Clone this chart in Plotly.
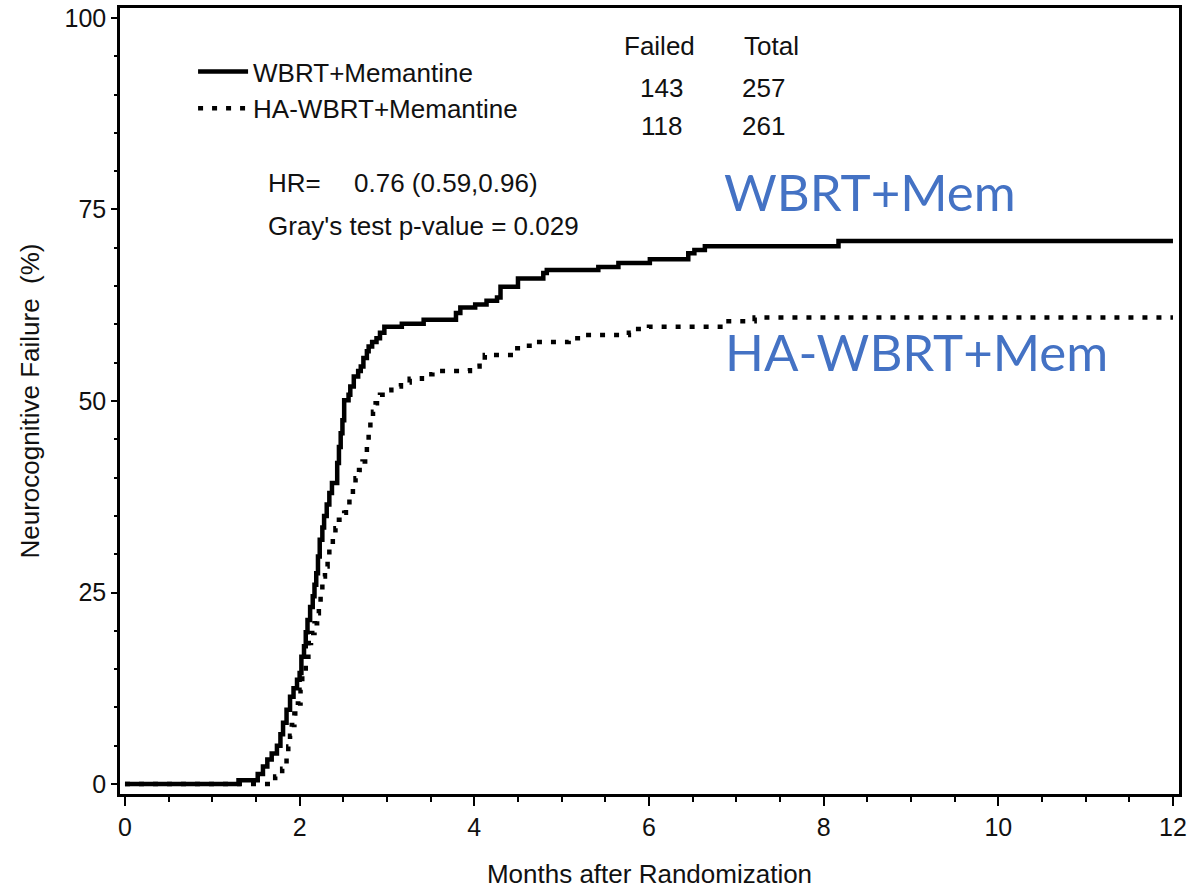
import plotly.graph_objects as go

# ---- data ----
wbrt_t = [0, 1.30, 1.52, 1.58, 1.63, 1.68, 1.74, 1.78, 1.81, 1.85, 1.89, 1.93, 1.97, 2.00,
          2.02, 2.05, 2.07, 2.09, 2.12, 2.15, 2.17, 2.19, 2.21, 2.23, 2.26, 2.28, 2.31, 2.34,
          2.37, 2.43, 2.45, 2.47, 2.49, 2.51, 2.56, 2.58, 2.62, 2.67, 2.70, 2.73, 2.77, 2.79,
          2.83, 2.88, 2.92, 2.97, 3.17, 3.42, 3.79, 3.84, 4.01, 4.14, 4.26, 4.30, 4.50, 4.79,
          4.83, 5.42, 5.65, 6.01, 6.45, 6.52, 6.64, 8.17, 12.0]
wbrt_v = [0, 0.5, 1.3, 2.3, 3.2, 4.0, 5.0, 6.5, 8.0, 9.7, 11.4, 12.5, 13.6, 14.5,
          16.6, 18.0, 19.8, 21.4, 23.1, 24.5, 26.0, 27.5, 29.7, 31.9, 33.5, 35.0, 36.5, 38.0,
          39.3, 41.9, 44.0, 45.8, 47.5, 50.1, 50.8, 51.9, 53.2, 53.9, 54.5, 55.6, 56.5, 57.1,
          57.7, 58.2, 58.9, 59.7, 60.1, 60.6, 61.5, 62.2, 62.6, 63.1, 63.5, 64.9, 66.0, 66.7,
          67.1, 67.5, 68.0, 68.5, 69.3, 69.7, 70.2, 70.9, 70.9]

ha_t = [0, 1.72, 1.80, 1.85, 1.87, 1.89, 1.91, 1.94, 1.98, 2.01, 2.03, 2.07, 2.10, 2.13,
        2.17, 2.20, 2.22, 2.24, 2.26, 2.29, 2.32, 2.34, 2.38, 2.41, 2.45, 2.51, 2.53, 2.57,
        2.61, 2.64, 2.68, 2.72, 2.75, 2.77, 2.79, 2.81, 2.84, 2.87, 2.92, 2.98, 3.05, 3.16,
        3.26, 3.40, 3.52, 3.95, 4.06, 4.12, 4.45, 4.55, 4.67, 5.08, 5.24, 5.77, 5.85, 6.00,
        6.88, 7.21, 12.0]
ha_v = [0, 1.0, 2.0, 3.5, 4.9, 6.3, 7.7, 9.2, 10.5, 12.3, 14.5, 16.6, 18.4, 19.7,
        21.0, 22.3, 23.8, 25.3, 27.1, 28.4, 29.7, 31.0, 32.3, 33.4, 34.5, 35.4, 36.2, 37.5,
        38.8, 39.9, 41.0, 42.1, 43.2, 44.9, 46.2, 47.5, 48.6, 49.7, 50.8, 51.4, 51.9, 52.4,
        52.9, 53.5, 53.9, 54.5, 55.0, 56.0, 56.9, 57.2, 57.7, 58.2, 58.6, 58.9, 59.4, 59.7,
        60.4, 60.9, 60.9]

series_names = ["WBRT+Memantine", "HA-WBRT+Memantine"]
failed = ["143", "118"]
total = ["257", "261"]
hr_text = "0.76 (0.59,0.96)"
p_text = "Gray's test p-value = 0.029"
x_ticks = [0, 2, 4, 6, 8, 10, 12]
y_ticks = [0, 25, 50, 75, 100]

ARIAL = "Arial, Liberation Sans, sans-serif"
BLUE = "#4472C4"

fig = go.Figure()
fig.add_trace(go.Scatter(x=wbrt_t, y=wbrt_v, mode="lines", line_shape="hv",
                         name=series_names[0], line=dict(color="black", width=4.5)))
fig.add_trace(go.Scatter(x=ha_t, y=ha_v, mode="lines", line_shape="hv",
                         name=series_names[1],
                         line=dict(color="black", width=4.5, dash="5px,9px")))

ann = []
def txt(x, y, s, size=26, xanchor="left", color="#111", family=ARIAL):
    ann.append(dict(x=x, y=y, xref="x", yref="y", text=s, showarrow=False,
                    xanchor=xanchor, yanchor="middle",
                    font=dict(size=size, color=color, family=family)))

# table
txt(6.126, 96.4, "Failed", xanchor="center")
txt(7.065, 96.4, "Total")
txt(6.138, 90.8, failed[0], xanchor="center")
txt(7.042, 90.8, total[0])
txt(6.138, 85.9, failed[1], xanchor="center")
txt(7.042, 85.9, total[1])
# stats
txt(1.615, 78.4, "HR=")
txt(2.599, 78.4, hr_text)
txt(1.615, 72.8, p_text)
# blue labels
txt(6.836, 77.3, "WBRT+Mem", size=51, color=BLUE, family="Lato, Open Sans, sans-serif")
txt(6.848, 56.5, "HA-WBRT+Mem", size=51, color=BLUE, family="Lato, Open Sans, sans-serif")

fig.update_layout(
    width=1201, height=889,
    margin=dict(l=120, r=22, t=8, b=95),
    paper_bgcolor="white", plot_bgcolor="white",
    font=dict(family=ARIAL, size=25, color="#111"),
    annotations=ann,
    showlegend=True,
    legend=dict(x=0.069, y=0.949, xanchor="left", yanchor="top",
                bgcolor="rgba(0,0,0,0)", font=dict(size=26, family=ARIAL, color="#111"),
                itemwidth=50, tracegroupgap=0),
    xaxis=dict(range=[-0.057, 12.069], tickvals=x_ticks, ticks="outside", ticklen=9,
               tickwidth=1.5, tickcolor="black", showline=True, linewidth=2.5,
               linecolor="black", mirror=True, showgrid=False, zeroline=False,
               automargin=False,
               minor=dict(dtick=0.5, ticks="outside", ticklen=5, tickwidth=1.5,
                          tickcolor="black", showgrid=False),
               tickfont=dict(size=25), title=dict(text="Months after Randomization",
                                                  font=dict(size=26), standoff=26)),
    yaxis=dict(range=[-1.3, 101.3], tickvals=y_ticks, ticks="outside", ticklen=6,
               tickwidth=1.5, tickcolor="black", showline=True, linewidth=2.5,
               linecolor="black", mirror=True, showgrid=False, zeroline=False,
               automargin=False,
               minor=dict(dtick=5, ticks="outside", ticklen=3, tickwidth=1.5,
                          tickcolor="black", showgrid=False),
               tickfont=dict(size=25), title=dict(text="Neurocognitive Failure  (%)",
                                                  font=dict(size=26), standoff=18)),
)

fig.write_html("out.html")
